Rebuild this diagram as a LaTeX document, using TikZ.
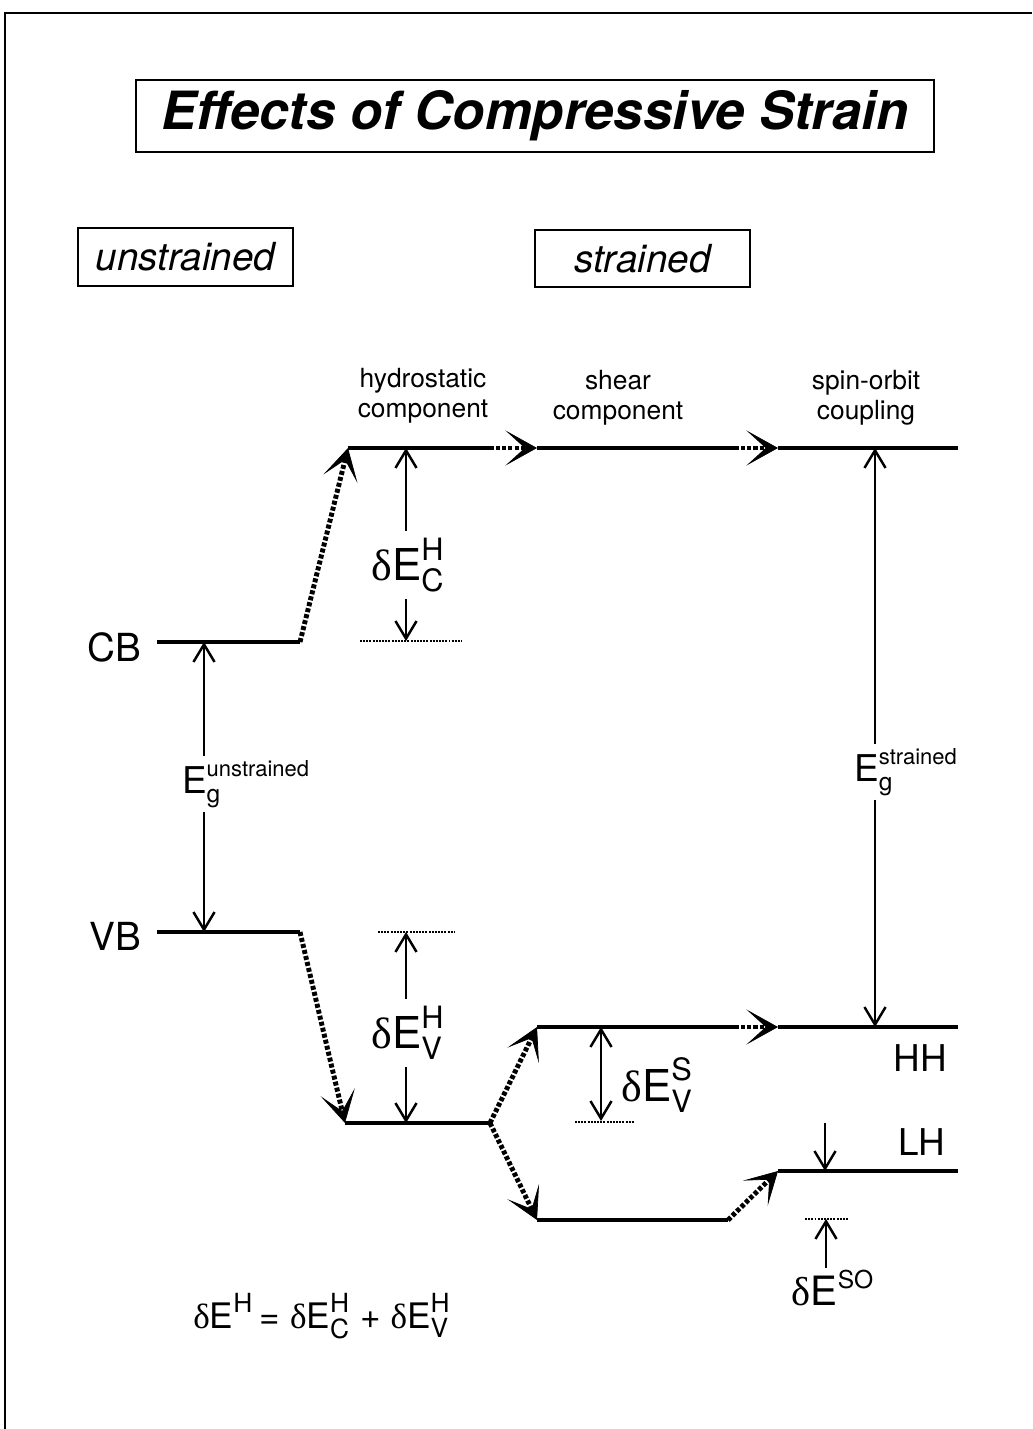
\documentclass[tikz,border=0pt]{standalone}
\usepackage{amsmath}
\usepackage{fontspec}
\setmainfont{TeX Gyre Heros}
\newfontfamily\dfont{Liberation Serif}
\usetikzlibrary{arrows.meta}
\newcommand{\dE}{{\dfont δ}E}
\newcommand{\scr}[2]{\text{\fontsize{#1}{#1}\selectfont #2}}

\begin{document}
\begin{tikzpicture}[x=0.02cm,y=-0.02cm,
  >={Straight Barb[length=10pt,width=12pt,line width=1.4pt]},
  bandline/.style={line width=2.3pt},
  dotjump/.style={line width=2.8pt,dash pattern=on 2.3pt off 1.2pt,
    -{Stealth[length=18pt,width=20pt,inset=11pt,line width=0.4pt]}},
  span/.style={line width=1.1pt},
  refdots/.style={line width=1.3pt,dash pattern=on 1.1pt off 0.7pt},
  boxed/.style={draw,line width=0.8pt,inner sep=0pt},
  comp/.style={align=center,font=\fontsize{15}{17}\selectfont},
  band/.style={font=\fontsize{22}{26}\selectfont},
  bigE/.style={font=\fontsize{25}{30}\selectfont,inner sep=4pt},
  gapE/.style={font=\fontsize{21}{25}\selectfont,inner sep=2pt}]
\useasboundingbox (0,0) rectangle (1032,1429);
\draw[line width=1.7pt] (5,1429) -- (5,13) -- (1032,13);

\node[boxed,minimum width=15.96cm,minimum height=1.44cm,
  font=\fontsize{30}{36}\selectfont\bfseries\itshape] (title) at (535,116) {Effects of Compressive Strain};
\node[boxed,minimum width=4.3cm,minimum height=1.16cm,
  font=\fontsize{22}{26}\selectfont\itshape] (unstr) at (185.5,257) {unstrained};
\node[boxed,minimum width=4.3cm,minimum height=1.14cm,
  font=\fontsize{22}{26}\selectfont\itshape] (str) at (642.5,258.5) {strained};

\node[comp] (hydro) at (423,396) {hydrostatic\\component};
\node[comp] (shear) at (618,398) {shear\\component};
\node[comp] (spin) at (866,398) {spin-orbit\\coupling};

\coordinate (cbL) at (157,642);
\coordinate (cbA) at (204,642);
\coordinate (cbR) at (300,642);
\coordinate (chL) at (348,448);
\coordinate (dcT) at (406,448);
\coordinate (chA) at (490,448);
\coordinate (chB) at (537,448);
\coordinate (chC) at (735,448);
\coordinate (chD) at (778,448);
\coordinate (egT) at (875,448);
\coordinate (chR) at (958,448);
\coordinate (dcB) at (406,641);
\coordinate (vbL) at (157,932);
\coordinate (vbA) at (204,932);
\coordinate (vbR) at (300,932);
\coordinate (dvT) at (406,932);
\coordinate (vhL) at (345,1123);
\coordinate (dvB) at (406,1123);
\coordinate (vhR) at (490,1123);
\coordinate (hhL) at (537,1027);
\coordinate (dsT) at (601,1027);
\coordinate (hhA) at (735,1027);
\coordinate (hhB) at (778,1027);
\coordinate (egB) at (875,1027);
\coordinate (hhR) at (958,1027);
\coordinate (dsB) at (601,1121);
\coordinate (lwL) at (537,1220);
\coordinate (lwR) at (728,1220);
\coordinate (lhL) at (778,1171);
\coordinate (lhA) at (825,1171);
\coordinate (lhR) at (958,1171);
\coordinate (lhT) at (825,1123);
\coordinate (soA) at (826,1219);

\node[band,anchor=east] (cb) at (147,647) {CB};
\node[band,anchor=east] (vb) at (147,936) {VB};
\node[font=\fontsize{21}{25}\selectfont] (hh) at (920,1058) {HH};
\node[font=\fontsize{21}{25}\selectfont] (lh) at (922,1142) {LH};

\draw[bandline] (cbL) -- (cbR);
\draw[dotjump] (cbR) -- (chL);
\draw[bandline] (chL) -- (chA);
\draw[dotjump] (chA) -- (chB);
\draw[bandline] (chB) -- (chC);
\draw[dotjump] (chC) -- (chD);
\draw[bandline] (chD) -- (chR);

\draw[bandline] (vbL) -- (vbR);
\draw[dotjump] (vbR) -- (vhL);
\draw[bandline] (vhL) -- (vhR);
\draw[dotjump] (vhR) -- (hhL);
\draw[dotjump] (vhR) -- (lwL);
\draw[bandline] (hhL) -- (hhA);
\draw[dotjump] (hhA) -- (hhB);
\draw[bandline] (hhB) -- (hhR);
\draw[bandline] (lwL) -- (lwR);
\draw[dotjump] (lwR) -- (lhL);
\draw[bandline] (lhL) -- (lhR);

\node[bigE] (dch) at (408,565) {$\text{\dE}^{\text{H}}_{\text{C}}$};
\draw[span,->] (dch.north -| dcT) -- (dcT);
\draw[span,->] (dch.south -| dcB) -- (dcB);
\draw[refdots] (360,641) -- (462,641);

\node[bigE] (dvh) at (408,1033) {$\text{\dE}^{\text{H}}_{\text{V}}$};
\draw[span,->] (dvh.north -| dvT) -- (dvT);
\draw[span,->] (dvh.south -| dvB) -- (dvB);
\draw[refdots] (378,932) -- (454,932);

\node[bigE] (dvs) at (657,1085) {$\text{\dE}^{\text{S}}_{\text{V}}$};
\draw[span,<->] (dsT) -- (dsB);
\draw[refdots] (575,1122) -- (635,1122);

\node[gapE] (egu) at (246,784) {$\text{E}^{\scr{12.5}{unstrained}}_{\scr{14}{g}}$};
\draw[span,<-] (cbA) -- (egu.north -| cbA);
\draw[span,->] (egu.south -| vbA) -- (vbA);

\node[gapE] (egs) at (906,772) {$\text{E}^{\scr{12.5}{strained}}_{\scr{14}{g}}$};
\draw[span,<-] (egT) -- (egs.north -| egT);
\draw[span,->] (egs.south -| egB) -- (egB);

\draw[span,->] (lhT) -- (lhA);
\node[font=\fontsize{23}{27}\selectfont,inner sep=1pt] (dso) at (833,1288) {$\text{\dE}^{\scr{14}{SO}}$};
\draw[span,->] (dso.north -| soA) -- (soA);
\draw[refdots] (805,1219) -- (849,1219);

\node[font=\fontsize{20}{24}\selectfont] (sum) at (322,1316)
  {$\text{\dE}^{\scr{15}{H}}\,\scr{20}{=}\;\text{\dE}^{\scr{15}{H}}_{\scr{15}{C}}\;\scr{20}{+}\;\text{\dE}^{\scr{15}{H}}_{\scr{15}{V}}$};
\end{tikzpicture}
\end{document}
